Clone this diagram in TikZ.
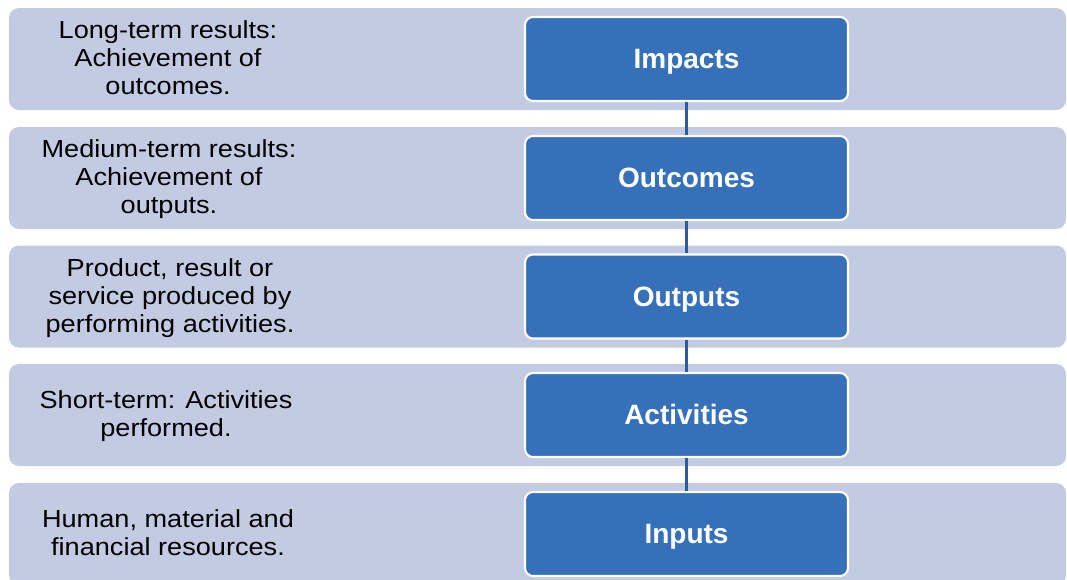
\documentclass[tikz,border=0pt]{standalone}
\usepackage{fontspec}
\setmainfont{Liberation Sans}
\definecolor{bandfill}{HTML}{C3CBE3}
\definecolor{boxfill}{HTML}{3670B8}
\definecolor{connblue}{HTML}{2E5C9A}
\tikzset{
  band/.style={fill=bandfill, draw=none, rounded corners=10*0.75pt, minimum width=1057*0.75pt, minimum height=102*0.75pt, inner sep=0pt},
  stagebox/.style={fill=boxfill, draw=white, line width=1.6pt, rounded corners=8*0.75pt, minimum width=323*0.75pt, minimum height=84*0.75pt, inner sep=0pt, text=white, text height=14.5pt, text depth=0pt, font=\bfseries\fontsize{21pt}{24pt}\selectfont},
  desc/.style={align=center, inner sep=0pt, text=black, font=\fontsize{18.5pt}{21pt}\selectfont},
  conn/.style={draw=connblue, line width=1.9pt}
}
\newcommand{\wide}[1]{\scalebox{1.1}[1]{#1}}
\begin{document}
\begin{tikzpicture}[x=0.75pt, y=-0.75pt]
\useasboundingbox (0,0) rectangle (1067,579);
\clip (0,0) rectangle (1067,579);
\fill[white] (0,0) rectangle (1067,579);
% bands
\node[band] (b1) at (537.5,59) {};
\node[band] (b2) at (537.5,178) {};
\node[band] (b3) at (537.5,296.5) {};
\node[band] (b4) at (537.5,415) {};
\node[band] (b5) at (537.5,534) {};
% stage boxes
\node[stagebox] (impacts) at (686.5,59) {Impacts};
\node[stagebox] (outcomes) at (686.5,178) {Outcomes};
\node[stagebox] (outputs) at (686.5,296.5) {Outputs};
\node[stagebox] (activities) at (686.5,415) {Activities};
\node[stagebox] (inputs) at (686.5,534) {Inputs};
% connectors
\draw[conn] (impacts.south) -- (outcomes.north);
\draw[conn] (outcomes.south) -- (outputs.north);
\draw[conn] (outputs.south) -- (activities.north);
\draw[conn] (activities.south) -- (inputs.north);
% descriptions
\node[desc] (d1) at (168,61) {\wide{\begin{tabular}{@{}c@{}}Long-term results:\\Achievement of\\outcomes.\end{tabular}}};
\node[desc] (d2) at (169,180) {\wide{\begin{tabular}{@{}c@{}}Medium-term results:\\Achievement of\\outputs.\end{tabular}}};
\node[desc] (d3) at (170,298.5) {\wide{\begin{tabular}{@{}c@{}}Product, result or\\service produced by\\performing activities.\end{tabular}}};
\node[desc] (d4) at (166,417) {\wide{\begin{tabular}{@{}c@{}}Short-term: Activities\\performed.\end{tabular}}};
\node[desc] (d5) at (168,536) {\wide{\begin{tabular}{@{}c@{}}Human, material and\\financial resources.\end{tabular}}};
\end{tikzpicture}
\end{document}
